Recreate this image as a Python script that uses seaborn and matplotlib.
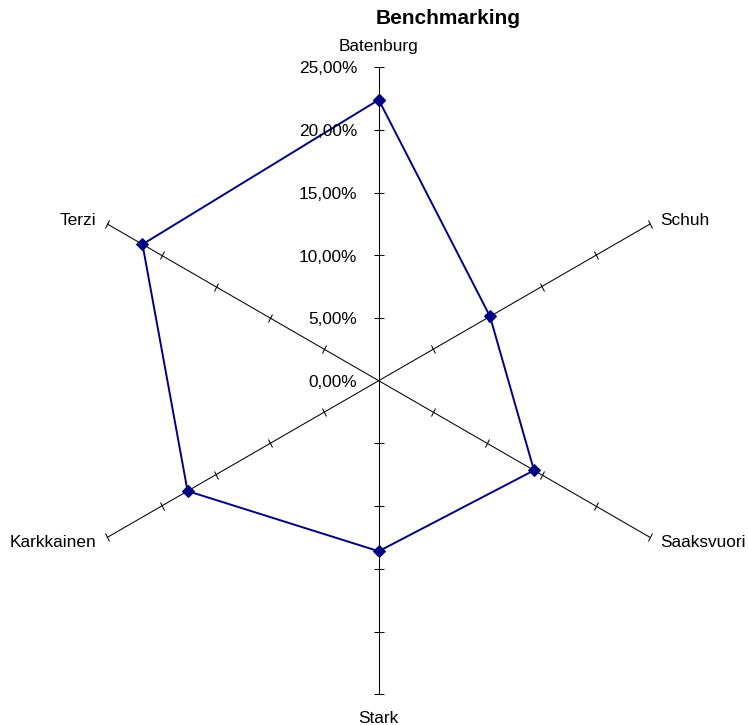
import numpy as np
import matplotlib
matplotlib.use("Agg")
import matplotlib.pyplot as plt
from matplotlib.markers import MarkerStyle
from matplotlib.transforms import Affine2D, ScaledTranslation
import seaborn as sns

# ---- data ----
categories = ["Batenburg", "Schuh", "Saaksvuori", "Stark", "Karkkainen", "Terzi"]
values = [22.4, 10.25, 14.3, 13.6, 17.6, 21.75]   # percent
tick_values = [0, 5, 10, 15, 20, 25]
tick_labels = ["0,00%", "5,00%", "10,00%", "15,00%", "20,00%", "25,00%"]
title = "Benchmarking"

sns.set_style("white")
plt.rcParams["font.family"] = ["Liberation Sans", "DejaVu Sans"]
plt.rcParams["text.color"] = "black"

W, H, DPI = 748, 725, 100
fig = plt.figure(figsize=(W / DPI, H / DPI), dpi=DPI)
fig.patch.set_facecolor("white")

cx, cy, R = 378.7, 380.7, 313.5  # pixel centre & radius (from top-left)
ax = fig.add_axes([(cx - R) / W, (H - cy - R) / H, 2 * R / W, 2 * R / H],
                  projection="polar")
ax.set_theta_zero_location("N")
ax.set_theta_direction(-1)
ax.set_ylim(0, 25)
ax.set_xticks([])
ax.set_yticks([])
ax.grid(False)
ax.spines["polar"].set_visible(False)
ax.set_facecolor("none")

n = len(categories)
thetas = [2 * np.pi * i / n for i in range(n)]

def px(dx, dy):
    # offset in pixels (dy positive = downwards)
    return ScaledTranslation(dx / DPI, -dy / DPI, fig.dpi_scale_trans)

# spokes with tick marks
for i, t in enumerate(thetas):
    ax.plot([t, t], [0, 25], color="black", lw=0.75, clip_on=False, zorder=1)
    deg = 360.0 * i / n
    ms = MarkerStyle("_", transform=Affine2D().rotate_deg(-deg))
    ax.plot([t] * 5, tick_values[1:], linestyle="none", marker=ms,
            markersize=7, markeredgewidth=0.75, color="black",
            clip_on=False, zorder=1)

# data polygon
df_t = thetas + [thetas[0]]
df_v = values + [values[0]]
sns.lineplot(x=df_t, y=df_v, sort=False, estimator=None, ax=ax,
             color="#000080", lw=1.4, marker="D", markersize=6,
             markeredgecolor="#000080", clip_on=False, zorder=3)
ax.set_xlabel("")
ax.set_ylabel("")
ax.set_ylim(0, 25)

# value labels on the top spoke
for v, lab in zip(tick_values, tick_labels):
    ax.text(0, v, lab, ha="right", va="baseline", fontsize=12.4,
            color="black", transform=ax.transData + px(-21.5, 6.2))

# category labels
label_cfg = {
    "Batenburg": ("center", 0, -16.5),
    "Schuh": ("left", 9.5, 1.0),
    "Saaksvuori": ("left", 10, 9.5),
    "Stark": ("center", 0, 28.5),
    "Karkkainen": ("right", -10.5, 9.5),
    "Terzi": ("right", -10.5, 1.0),
}
for t, cat in zip(thetas, categories):
    ha, dx, dy = label_cfg[cat]
    ax.text(t, 25, cat, ha=ha, va="baseline", fontsize=12.4, color="black",
            transform=ax.transData + px(dx, dy))

fig.text(448.3 / W, 1 - 24 / H, title, ha="center", va="baseline",
         fontsize=15, fontweight="bold", color="black")

fig.savefig("out.png", dpi=DPI, facecolor="white")
